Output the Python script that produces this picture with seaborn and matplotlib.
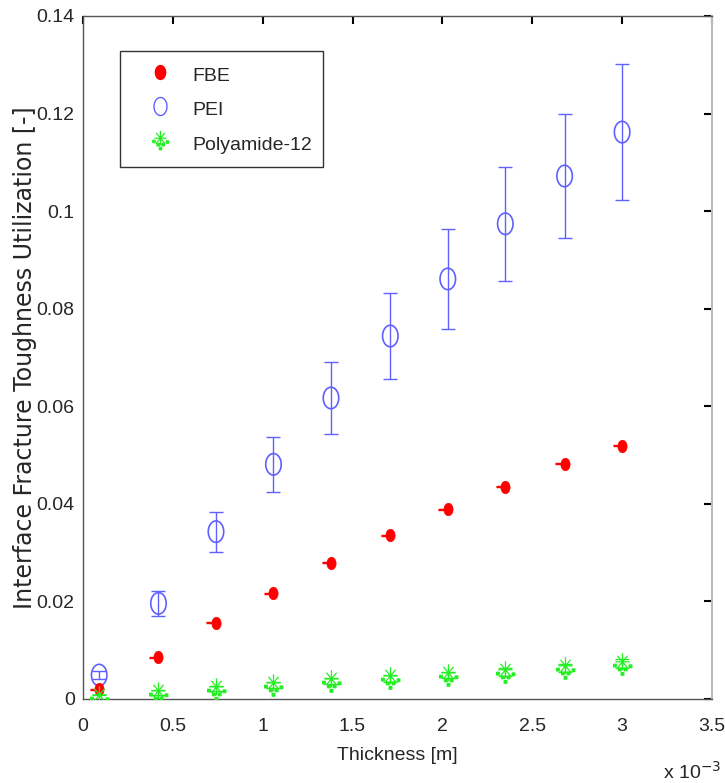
import numpy as np
import pandas as pd
import matplotlib
matplotlib.use("Agg")
import matplotlib.pyplot as plt
from matplotlib.path import Path
from matplotlib.lines import Line2D
from matplotlib.ticker import FuncFormatter
from matplotlib import font_manager
import seaborn as sns

# ---------------- data ----------------
thickness = [0.09e-3, 0.42e-3, 0.74e-3, 1.06e-3, 1.38e-3, 1.71e-3, 2.03e-3, 2.35e-3, 2.68e-3, 3.0e-3]
fbe = [0.0020, 0.0086, 0.0156, 0.0217, 0.0279, 0.0336, 0.0389, 0.0435, 0.0482, 0.0519]
fbe_err = [0.0001, 0.0001, 0.0001, 0.0001, 0.0001, 0.0001, 0.0001, 0.0001, 0.0001, 0.0001]
pei = [0.0049, 0.0196, 0.0343, 0.0481, 0.0617, 0.0744, 0.0861, 0.0974, 0.1072, 0.1162]
pei_err = [0.0008, 0.0025, 0.0041, 0.0057, 0.0073, 0.0089, 0.0102, 0.0117, 0.0128, 0.0140]
pa12 = [0.0004, 0.0013, 0.0021, 0.0029, 0.0036, 0.0042, 0.0049, 0.0056, 0.0064, 0.0072]
pa12_err = [0.0004, 0.0005, 0.0005, 0.0006, 0.0006, 0.0007, 0.0007, 0.0008, 0.0008, 0.0009]
series_names = ["FBE", "PEI", "Polyamide-12"]
x_ticks = [0, 0.5, 1, 1.5, 2, 2.5, 3, 3.5]
y_ticks = [0, 0.02, 0.04, 0.06, 0.08, 0.1, 0.12, 0.14]

df = pd.DataFrame({"thickness": thickness, "FBE": fbe, "PEI": pei, "PA12": pa12})

# ---------------- styles ----------------
sns.set_theme(style="white")
names = {f.name for f in font_manager.fontManager.ttflist}
narrow = [n for n in ["Liberation Sans Narrow", "DejaVu Sans Condensed"] if n in names]
MAIN_FONT = narrow + ["Liberation Sans", "DejaVu Sans"]
plt.rcParams["font.family"] = MAIN_FONT
FS = 17 if narrow else 14

RED = "#ff0000"
BLUE = "#6060ff"
GREEN = "#22ee22"

t = np.linspace(0, 2 * np.pi, 41)
ell_open = Path(np.column_stack([0.36 * np.cos(t), 0.5 * np.sin(t)]), closed=True)
ell_fill = Path(np.column_stack([0.37 * np.cos(t), 0.5 * np.sin(t)]), closed=True)

verts, codes = [], []
r = 0.32
for a in [0, 45, 90, 135]:
    ang = np.deg2rad(a)
    dx, dy = r * np.cos(ang), 1.2 * r * np.sin(ang)
    verts += [(-dx, -dy + 0.12), (dx, dy + 0.12)]
    codes += [Path.MOVETO, Path.LINETO]
s = 0.06
for cx, cy in [(-0.12, -0.22), (0.14, -0.22), (0.36, -0.08), (0.0, -0.42), (-0.34, -0.05)]:
    verts += [(cx - s, cy - s), (cx + s, cy - s), (cx + s, cy + s), (cx - s, cy + s), (cx - s, cy - s)]
    codes += [Path.MOVETO, Path.LINETO, Path.LINETO, Path.LINETO, Path.CLOSEPOLY]
pa_marker = Path(verts, codes)

fig = plt.figure(figsize=(7.25, 7.83), dpi=100)
ax = fig.add_axes([0.1145, 0.1073, 0.8675, 0.8723])

ax.errorbar(df["thickness"], df["PEI"], yerr=pei_err, fmt="none", ecolor=BLUE,
            elinewidth=1.0, capsize=5, capthick=1.0, zorder=2)
ax.errorbar(df["thickness"], df["PA12"], yerr=pa12_err, fmt="none", ecolor=GREEN,
            elinewidth=1.0, capsize=5, capthick=1.0, zorder=2)
ax.errorbar(df["thickness"] - 0.025e-3, df["FBE"], yerr=fbe_err, fmt="none", ecolor=RED,
            elinewidth=1.0, capsize=3.5, capthick=1.0, zorder=2)

sns.scatterplot(data=df, x="thickness", y="PEI", marker=ell_open, s=240,
                facecolor="none", edgecolor=BLUE, linewidth=1.2, ax=ax, zorder=3)
sns.scatterplot(data=df, x="thickness", y="FBE", marker=ell_fill, s=80,
                color=RED, edgecolor=RED, linewidth=0.5, ax=ax, zorder=3)
sns.scatterplot(data=df, x="thickness", y="PA12", marker=pa_marker, s=260,
                color=GREEN, edgecolor=GREEN, linewidth=0.9, ax=ax, zorder=3)

ax.set_xlim(0, 3.5e-3)
ax.set_ylim(0, 0.14)
ax.set_xticks([v * 1e-3 for v in x_ticks])
ax.xaxis.set_major_formatter(FuncFormatter(lambda v, p: f"{v * 1e3:g}"))
ax.set_yticks(y_ticks)
ax.yaxis.set_major_formatter(FuncFormatter(lambda v, p: f"{v:g}"))

ax.tick_params(axis="both", which="major", direction="in", length=6, width=1.5,
               color="black", top=True, right=True, labelsize=FS)
ax.tick_params(axis="x", pad=14)
ax.tick_params(axis="y", pad=6)
for side in ["left", "bottom", "top"]:
    ax.spines[side].set_color("#555555")
    ax.spines[side].set_linewidth(1.0)
ax.spines["right"].set_color("#bbbbbb")
ax.spines["right"].set_linewidth(1.5)

ax.set_xlabel("Thickness [m]", fontsize=FS, labelpad=8)
ax.set_ylabel("Interface Fracture Toughness Utilization [-]", fontsize=17,
              family=["DejaVu Sans"], labelpad=0)
fig.text(663 / 725, 4 / 783, r"x 10$^{-3}$", fontsize=FS, ha="left", va="baseline")

handles = [
    Line2D([], [], linestyle="none", marker=ell_fill, markersize=10, color=RED),
    Line2D([], [], linestyle="none", marker=ell_open, markersize=13, markerfacecolor="none",
           markeredgecolor=BLUE, markeredgewidth=1.0),
    Line2D([], [], linestyle="none", marker=pa_marker, markersize=14, color=GREEN,
           markeredgewidth=0.9),
]
leg = ax.legend(handles, series_names, loc="upper left", bbox_to_anchor=(0.059, 0.949),
                fontsize=FS, frameon=True, fancybox=False, edgecolor="black",
                borderpad=0.6, labelspacing=0.55, handlelength=2.9, handletextpad=0.2,
                handleheight=1.5, borderaxespad=0)
leg.get_frame().set_linewidth(1.0)
leg.get_frame().set_facecolor("white")

fig.savefig("out.png", dpi=100)
